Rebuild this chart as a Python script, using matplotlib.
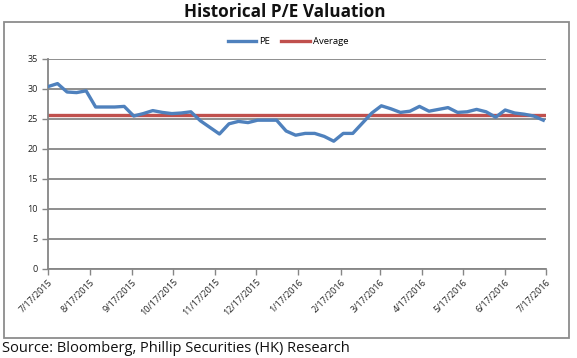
import matplotlib
matplotlib.use("Agg")
import matplotlib.pyplot as plt
import matplotlib.dates as mdates
from matplotlib.patches import Rectangle
import pandas as pd
import numpy as np

# ---- data ----
start_date = "2015-07-17"
pe_values = [30.4, 30.9, 29.5, 29.4, 29.7, 27.0, 27.0, 27.0, 27.1, 25.5,
             25.9, 26.4, 26.1, 25.9, 26.0, 26.2, 24.7, 23.6, 22.5, 24.2,
             24.6, 24.4, 24.8, 24.8, 24.8, 23.0, 22.3, 22.6, 22.6, 22.1,
             21.3, 22.6, 22.6, 24.3, 26.0, 27.2, 26.7, 26.1, 26.3, 27.1,
             26.3, 26.6, 26.9, 26.1, 26.2, 26.6, 26.2, 25.3, 26.5, 26.0,
             25.8, 25.5, 24.8]
average_value = 25.6
tick_dates = ["2015-07-17", "2015-08-17", "2015-09-17", "2015-10-17", "2015-11-17",
              "2015-12-17", "2016-01-17", "2016-02-17", "2016-03-17", "2016-04-17",
              "2016-05-17", "2016-06-17", "2016-07-17"]
tick_labels = ["7/17/2015", "8/17/2015", "9/17/2015", "10/17/2015", "11/17/2015",
               "12/17/2015", "1/17/2016", "2/17/2016", "3/17/2016", "4/17/2016",
               "5/17/2016", "6/17/2016", "7/17/2016"]
y_ticks = [0, 5, 10, 15, 20, 25, 30, 35]

dates = pd.date_range(start_date, periods=len(pe_values), freq="7D")
tdates = pd.to_datetime(tick_dates)

W, H = 577, 358
fig = plt.figure(figsize=(W / 100, H / 100), dpi=100)
fig.patch.set_facecolor("white")

# outer chart border
fig.patches.append(Rectangle((4 / W, 1 - 338 / H), (569 - 4) / W, (338 - 22) / H,
                             transform=fig.transFigure, fill=False,
                             edgecolor="#8c8c8c", linewidth=1.3))

ax = fig.add_axes([48 / W, 1 - 269 / H, (546 - 48) / W, (269 - 59) / H])
grid_c = "#868686"
ax.plot(dates, pe_values, color="#4F81BD", linewidth=2.4, label="PE", zorder=3,
        solid_joinstyle="round")
ax.plot([tdates[0], tdates[-1]], [average_value, average_value], color="#C0504D",
        linewidth=2.4, label="Average", zorder=2)

ax.set_xlim(tdates[0], tdates[-1])
ax.set_ylim(0, 35)
ax.set_yticks(y_ticks)
ax.set_yticklabels([str(v) for v in y_ticks])
ax.set_xticks(tdates)
ax.set_xticklabels(tick_labels, rotation=45, ha="right", va="top",
                   rotation_mode="anchor")
for s in ["top", "right"]:
    ax.spines[s].set_visible(False)
for s in ["left", "bottom"]:
    ax.spines[s].set_color(grid_c)
    ax.spines[s].set_linewidth(1.3)
ax.yaxis.grid(True, color=grid_c, linewidth=1.3)
ax.set_axisbelow(True)
ax.tick_params(axis="both", colors=grid_c, labelcolor="#222222", labelsize=6.5,
               length=4, width=1.0)
ax.tick_params(axis="x", pad=2)

for lbl in ax.get_xticklabels() + ax.get_yticklabels():
    lbl.set_fontfamily("Open Sans")

leg = fig.legend(loc="center", bbox_to_anchor=(288 / W, 1 - 42 / H), ncol=2,
                 frameon=False, handlelength=3.0, handletextpad=0.3,
                 columnspacing=1.2, prop={"family": "Open Sans", "size": 6.8})

fig.text(285 / W, 1 - 12 / H, "Historical P/E Valuation", ha="center", va="center",
         fontsize=12.3, fontweight="bold", family="Open Sans", color="#111111")
fig.text(2 / W, 1 - 348 / H, "Source: Bloomberg, Phillip Securities (HK) Research",
         ha="left", va="center", fontsize=10.5, family="Open Sans", color="#111111")

fig.savefig("out.png", dpi=100, facecolor="white")
